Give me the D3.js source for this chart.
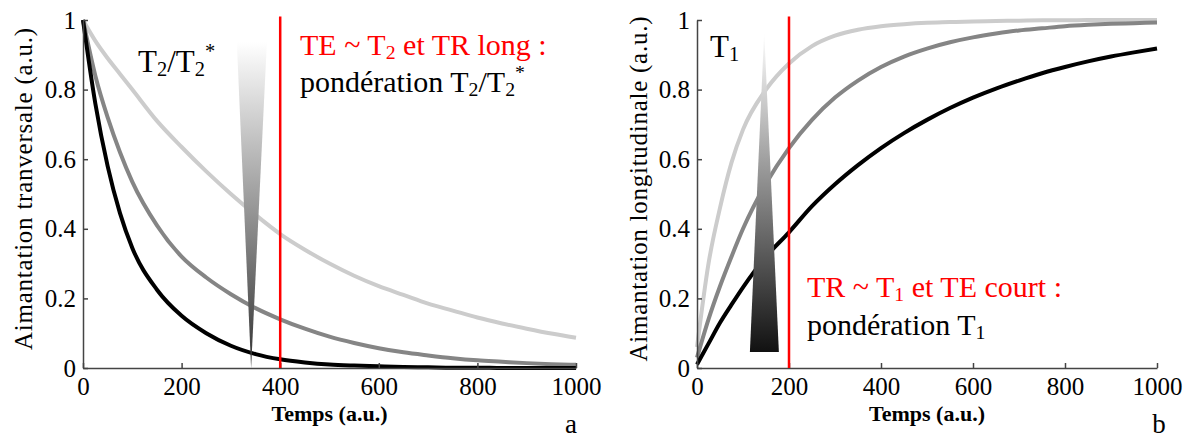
<!DOCTYPE html>
<html>
<head>
<meta charset="utf-8">
<script src="https://cdn.jsdelivr.net/npm/d3@7"></script>
<style>
    body { margin: 0; background: #fff; }
    svg { display: block; }
    svg text { font-family: 'Liberation Serif', 'Times New Roman', Times, serif; }
</style>
</head>
<body>
<svg id="chart" width="1189" height="441"></svg>
<script>
// time samples (a.u.)
const times = [0, 25, 50, 75, 100, 150, 200, 250, 300, 350, 400, 450, 500, 550, 600, 650, 700, 750, 800, 850, 900, 950, 1000]

// panel a : transverse decay
const transLight = [1, 0.94, 0.89, 0.845, 0.8, 0.71, 0.635, 0.565, 0.5, 0.44, 0.385, 0.34, 0.3, 0.265, 0.235, 0.21, 0.185, 0.165, 0.145, 0.128, 0.113, 0.099, 0.087]
const transGray = [1, 0.84, 0.72, 0.62, 0.535, 0.41, 0.32, 0.26, 0.212, 0.172, 0.14, 0.113, 0.09, 0.072, 0.057, 0.045, 0.036, 0.028, 0.022, 0.018, 0.014, 0.011, 0.009]
const transBlack = [1, 0.76, 0.58, 0.445, 0.345, 0.225, 0.15, 0.1, 0.064, 0.04, 0.025, 0.016, 0.01, 0.007, 0.005, 0.003, 0.002, 0.001, 0.001, 0, 0, 0, 0]

// panel b : longitudinal recovery
const longLight = [0.06, 0.3, 0.46, 0.59, 0.685, 0.8, 0.875, 0.925, 0.955, 0.972, 0.982, 0.988, 0.992, 0.994, 0.996, 0.997, 0.998, 0.999, 0.999, 1, 1, 1, 1]
const longGray = [0.03, 0.14, 0.235, 0.32, 0.4, 0.53, 0.632, 0.713, 0.777, 0.826, 0.865, 0.895, 0.918, 0.936, 0.95, 0.961, 0.97, 0.976, 0.982, 0.986, 0.989, 0.991, 0.993]
const longBlack = [0.01, 0.07, 0.13, 0.182, 0.232, 0.32, 0.39, 0.465, 0.528, 0.583, 0.632, 0.675, 0.713, 0.747, 0.777, 0.803, 0.826, 0.847, 0.865, 0.881, 0.895, 0.907, 0.918]

const timeTicks = [0, 200, 400, 600, 800, 1000]
const magTicks = [0, 0.2, 0.4, 0.6, 0.8, 1]

// echo times / repetition times marked in red
const teLine = 400
const trLine = 200

// gradient wedges in data units: [t, value]
const wedgeA = [[312, 0.937], [373, 0.937], [341, 0.0]]
const wedgeB = [[146, 0.966], [178, 0.046], [115, 0.046]]

const FONT = "'Liberation Serif', 'Times New Roman', serif"
const svg = d3.select('#chart')

const defs = svg.append('defs')
function addGradient(id, bottomColor) {
    const g = defs.append('linearGradient')
        .attr('id', id)
        .attr('x1', 0).attr('y1', 0)
        .attr('x2', 0).attr('y2', 1)
    g.append('stop').attr('offset', '0%').attr('stop-color', '#ffffff')
    g.append('stop').attr('offset', '100%').attr('stop-color', bottomColor)
}
addGradient('gradA', '#333333')
addGradient('gradB', '#111111')

function richText(parent, x, y, parts, size, color) {
    const t = parent.append('text')
        .attr('x', x)
        .attr('y', y)
        .attr('font-family', FONT)
        .attr('font-size', size)
        .attr('fill', color)
    let shift = 0
    parts.forEach((p) => {
        const span = t.append('tspan').text(p[0])
        let target = 0
        if (p[1] === 'sub') {
            span.attr('font-size', size * 0.66)
            target = size * 0.14
        } else if (p[1] === 'sup') {
            span.attr('font-size', size * 0.66)
            target = -size * 0.45
        }
        span.attr('dy', target - shift)
        shift = target
    })
    return t
}

function drawPanel(cfg) {
    const x = d3.scaleLinear().domain([0, 1000]).range([cfg.left, cfg.right])
    const y = d3.scaleLinear().domain([0, 1]).range([368, 20])
    const g = svg.append('g')

    const line = d3.line()
        .x((d) => x(d[0]))
        .y((d) => y(d[1]))
        .curve(d3.curveMonotoneX)

    cfg.series.forEach((s) => {
        g.append('path')
            .datum(times.map((t, i) => [t, s.values[i]]))
            .attr('fill', 'none')
            .attr('stroke', s.color)
            .attr('stroke-width', 4)
            .attr('d', line)
    })

    g.append('path')
        .attr('d', 'M' + cfg.wedge.map((p) => [x(p[0]), y(p[1])].join(',')).join('L') + 'Z')
        .attr('fill', `url(#${cfg.gradient})`)

    // axes
    const fmt = d3.format('~g')
    const xAxis = d3.axisBottom(x).tickValues(timeTicks).tickFormat(fmt)
        .tickSizeInner(-5).tickSizeOuter(0).tickPadding(9.5)
    const yAxis = d3.axisLeft(y).tickValues(magTicks).tickFormat(fmt)
        .tickSizeInner(-5).tickSizeOuter(0).tickPadding(7)

    const gx = g.append('g').attr('transform', `translate(0,${y(0)})`).call(xAxis)
    const gy = g.append('g').attr('transform', `translate(${x(0)},0)`).call(yAxis)
    ;[gx, gy].forEach((a) => {
        a.attr('font-family', FONT).attr('font-size', 25)
        a.selectAll('path, line').attr('stroke', '#444').attr('stroke-width', 1.5)
        a.selectAll('text').attr('fill', '#000').attr('font-family', FONT)
    })

    g.append('line')
        .attr('x1', x(cfg.redAt)).attr('x2', x(cfg.redAt))
        .attr('y1', y(1.01)).attr('y2', y(0))
        .attr('stroke', '#ff0000')
        .attr('stroke-width', 2.5)

    g.append('text')
        .attr('x', (cfg.left + cfg.right) / 2)
        .attr('y', 421)
        .attr('text-anchor', 'middle')
        .attr('font-family', FONT)
        .attr('font-size', 22)
        .attr('font-weight', 'bold')
        .text('Temps (a.u.)')

    g.append('text')
        .attr('transform', `translate(${cfg.yTitleX},${cfg.yTitleY}) rotate(-90)`)
        .attr('text-anchor', 'middle')
        .attr('font-family', FONT)
        .attr('font-size', 25)
        .attr('textLength', cfg.yTitleLen)
        .attr('lengthAdjust', 'spacing')
        .text(cfg.yTitle)

    g.append('text')
        .attr('x', cfg.letterX)
        .attr('y', 433)
        .attr('text-anchor', 'middle')
        .attr('font-family', FONT)
        .attr('font-size', 27)
        .text(cfg.letter)

    cfg.notes.forEach((n) => richText(g, n.x, n.y, n.parts, n.size, n.color))
}

drawPanel({
    left: 83,
    right: 576,
    series: [
        { values: transLight, color: '#cccccc' },
        { values: transGray, color: '#858585' },
        { values: transBlack, color: '#000000' },
    ],
    wedge: wedgeA,
    gradient: 'gradA',
    redAt: teLine,
    yTitle: 'Aimantation tranversale (a.u.)',
    yTitleX: 32,
    yTitleY: 189,
    yTitleLen: 322,
    letter: 'a',
    letterX: 571,
    notes: [
        { x: 138, y: 72, size: 31, color: '#000', parts: [['T'], ['2', 'sub'], ['/T'], ['2', 'sub'], ['*', 'sup']] },
        { x: 300, y: 55, size: 30, color: '#ff0000', parts: [['TE ~ T'], ['2', 'sub'], [' et TR long :']] },
        { x: 300, y: 92, size: 30, color: '#000', parts: [['pondération T'], ['2', 'sub'], ['/T'], ['2', 'sub'], ['*', 'sup']] },
    ],
})

drawPanel({
    left: 697,
    right: 1157,
    series: [
        { values: longLight, color: '#cccccc' },
        { values: longGray, color: '#858585' },
        { values: longBlack, color: '#000000' },
    ],
    wedge: wedgeB,
    gradient: 'gradB',
    redAt: trLine,
    yTitle: 'Aimantation longitudinale (a.u.)',
    yTitleX: 647,
    yTitleY: 189,
    yTitleLen: 345,
    letter: 'b',
    letterX: 1159,
    notes: [
        { x: 710, y: 57, size: 31, color: '#000', parts: [['T'], ['1', 'sub']] },
        { x: 807, y: 297, size: 30, color: '#ff0000', parts: [['TR ~ T'], ['1', 'sub'], [' et TE court :']] },
        { x: 807, y: 335, size: 30, color: '#000', parts: [['pondération T'], ['1', 'sub']] },
    ],
})
</script>
</body>
</html>
